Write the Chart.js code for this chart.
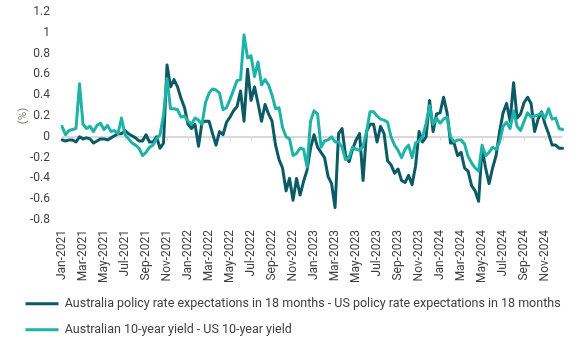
<!DOCTYPE html>
<html lang="en">
<head>
    <meta charset="UTF-8">
    <title>Australia vs US rate differentials</title>
    <script src="https://cdn.jsdelivr.net/npm/chart.js@4.4.1/dist/chart.umd.min.js"></script>
    <style>
        html, body { margin: 0; padding: 0; background: #fff; overflow: hidden; }
        #wrap { width: 579px; height: 350px; }
    </style>
</head>
<body>
    <div id="wrap"><canvas id="myChart"></canvas></div>
    <script>
        // x axis labels, one every two months
        const tickLabels = ['Jan-2021', 'Mar-2021', 'May-2021', 'Jul-2021', 'Sep-2021', 'Nov-2021',
            'Jan-2022', 'Mar-2022', 'May-2022', 'Jul-2022', 'Sep-2022', 'Nov-2022',
            'Jan-2023', 'Mar-2023', 'May-2023', 'Jul-2023', 'Sep-2023', 'Nov-2023',
            'Jan-2024', 'Mar-2024', 'May-2024', 'Jul-2024', 'Sep-2024', 'Nov-2024'];
        const months = ['Jan', 'Feb', 'Mar', 'Apr', 'May', 'Jun', 'Jul', 'Aug', 'Sep', 'Oct', 'Nov', 'Dec'];
        const years = [2021, 2022, 2023, 2024];
        const parts = ['early', 'mid', 'late'];

        const seriesNames = [
            'Australia policy rate expectations in 18 months - US policy rate expectations in 18 months',
            'Australian 10-year yield - US 10-year yield'
        ];

        // three readings per month, Jan-2021 .. Dec-2024 (%)
        const policyDiff = [
            -0.03, -0.04, -0.03, -0.03, -0.05, 0.00, -0.02, -0.01, -0.02, -0.06, -0.04, -0.02,
            -0.02, -0.03, -0.01, 0.01, 0.03, 0.03, 0.06, 0.03, 0.01, -0.01, -0.04, -0.04,
            0.02, -0.05, -0.05, 0.00, -0.11, -0.06, 0.69, 0.48, 0.55, 0.48, 0.37, 0.28,
            0.12, 0.08, 0.12, -0.09, 0.14, 0.15, 0.15, 0.03, -0.08, 0.05, 0.02, 0.14,
            0.19, 0.25, 0.29, 0.44, 0.15, 0.65, 0.35, 0.48, 0.32, 0.15, 0.31, 0.22,
            0.15, -0.08, -0.22, -0.30, -0.52, -0.40, -0.61, -0.40, -0.56, -0.43, -0.32, -0.11,
            0.02, -0.10, -0.15, -0.20, -0.38, -0.45, -0.68, 0.03, 0.08, -0.18, -0.24, -0.12,
            -0.03, 0.03, -0.42, 0.05, 0.12, 0.12, -0.05, 0.10, 0.03, -0.23, -0.27, -0.35,
            -0.31, -0.42, -0.44, -0.37, -0.46, -0.28, 0.05, -0.05, 0.00, 0.35, 0.05, 0.22,
            0.23, 0.38, 0.23, -0.06, -0.06, -0.18, -0.15, -0.30, -0.33, -0.47, -0.52, -0.62,
            -0.11, -0.30, -0.45, -0.30, -0.18, 0.05, 0.23, 0.32, 0.15, 0.52, 0.18, 0.22,
            0.33, 0.38, 0.32, 0.05, 0.17, 0.24, 0.12, 0.03, -0.08, -0.08, -0.11, -0.11
        ];
        const yieldDiff = [
            0.10, 0.02, 0.06, 0.07, 0.08, 0.51, 0.12, 0.08, 0.10, 0.05, 0.11, 0.13,
            0.07, 0.11, 0.05, 0.06, 0.03, 0.18, 0.02, -0.02, -0.06, -0.08, -0.11, -0.18,
            -0.15, -0.10, -0.08, -0.02, 0.02, 0.21, 0.56, 0.27, 0.27, 0.26, 0.19, 0.20,
            0.15, 0.12, 0.18, 0.16, 0.12, 0.33, 0.42, 0.46, 0.45, 0.42, 0.26, 0.28,
            0.36, 0.45, 0.54, 0.55, 0.98, 0.76, 0.78, 0.58, 0.72, 0.50, 0.55, 0.50,
            0.40, 0.27, 0.28, 0.09, 0.00, -0.02, -0.18, -0.16, -0.11, -0.12, -0.29, 0.15,
            0.25, 0.22, -0.10, -0.04, -0.03, 0.00, -0.05, -0.05, -0.10, -0.22, -0.20, -0.10,
            -0.12, -0.13, -0.09, 0.05, 0.24, 0.24, 0.20, 0.17, 0.16, 0.14, 0.00, -0.08,
            -0.13, -0.20, -0.12, -0.08, -0.20, -0.06, -0.04, 0.00, 0.13, 0.30, 0.12, 0.18,
            0.13, 0.17, 0.19, 0.00, -0.05, -0.03, -0.03, -0.07, -0.19, -0.25, -0.30, -0.33,
            -0.08, -0.18, -0.15, -0.10, -0.12, -0.05, 0.10, 0.14, 0.08, 0.25, 0.10, 0.06,
            0.15, 0.23, 0.19, 0.20, 0.21, 0.23, 0.18, 0.27, 0.17, 0.18, 0.08, 0.07
        ];

        const categories = [];
        years.forEach(function (y) {
            months.forEach(function (m) {
                parts.forEach(function (p) { categories.push(m + '-' + y + ' ' + p); });
            });
        });

        const darkTeal = '#0b5a66';
        const lightTeal = '#1eb3a6';
        const axisGrey = '#d9d9d9';
        const fontFamily = 'Roboto, "Open Sans", sans-serif';

        // little tick marks hanging under the zero line, one per x label
        const zeroTicks = {
            id: 'zeroTicks',
            beforeDatasetsDraw(chart) {
                const xs = chart.scales.x, ys = chart.scales.y;
                const y0 = ys.getPixelForValue(0);
                const ctx = chart.ctx;
                ctx.save();
                ctx.strokeStyle = axisGrey;
                ctx.lineWidth = 1;
                for (let i = 0; i < categories.length; i += 6) {
                    const x = Math.round(xs.getPixelForValue(i)) + 0.5;
                    ctx.beginPath();
                    ctx.moveTo(x, y0);
                    ctx.lineTo(x, y0 + 4);
                    ctx.stroke();
                }
                ctx.restore();
            }
        };

        new Chart(document.getElementById('myChart'), {
            type: 'line',
            data: {
                labels: categories,
                datasets: [
                    {
                        label: seriesNames[0],
                        data: policyDiff,
                        borderColor: darkTeal,
                        backgroundColor: darkTeal,
                        borderWidth: 3,
                        borderJoinStyle: 'round',
                        borderCapStyle: 'round',
                        pointRadius: 0,
                        tension: 0,
                        order: 1
                    },
                    {
                        label: seriesNames[1],
                        data: yieldDiff,
                        borderColor: lightTeal,
                        backgroundColor: lightTeal,
                        borderWidth: 3,
                        borderJoinStyle: 'round',
                        borderCapStyle: 'round',
                        pointRadius: 0,
                        tension: 0,
                        order: 0
                    }
                ]
            },
            plugins: [zeroTicks],
            options: {
                responsive: true,
                maintainAspectRatio: false,
                animation: false,
                layout: { padding: { top: 12, right: 5, left: 12, bottom: 4 } },
                plugins: {
                    tooltip: { enabled: false },
                    legend: {
                        position: 'bottom',
                        align: 'start',
                        labels: {
                            sort: (a, b) => a.datasetIndex - b.datasetIndex,
                            usePointStyle: true,
                            pointStyle: 'line',
                            pointStyleWidth: 33,
                            boxHeight: 12.5,
                            padding: 13.5,
                            color: '#404040',
                            font: { family: fontFamily, size: 12.5 }
                        }
                    }
                },
                scales: {
                    x: {
                        grid: { display: false },
                        border: { display: false },
                        ticks: {
                            autoSkip: false,
                            minRotation: 90,
                            maxRotation: 90,
                            padding: 2,
                            color: '#404040',
                            font: { family: fontFamily, size: 12 },
                            callback: function (value, index) {
                                return index % 6 === 0 ? tickLabels[index / 6] : '';
                            }
                        },
                        afterFit: function (scale) { scale.height = 64; }
                    },
                    y: {
                        min: -0.8,
                        max: 1.2,
                        border: { display: false },
                        grid: {
                            drawTicks: true,
                            tickLength: 12,
                            tickColor: 'rgba(0,0,0,0)',
                            lineWidth: 2,
                            color: (ctx) => ctx.tick && Math.abs(ctx.tick.value) < 1e-9 ? axisGrey : 'rgba(0,0,0,0)'
                        },
                        ticks: {
                            stepSize: 0.2,
                            padding: 0,
                            color: '#404040',
                            font: { family: fontFamily, size: 12 },
                            callback: (v) => String(Math.round(v * 10) / 10)
                        },
                        title: {
                            display: true,
                            text: '(%)',
                            color: '#8a7f78',
                            padding: { top: 4, bottom: 0 },
                            font: { family: fontFamily, size: 11.5 }
                        },
                        afterFit: function (scale) { scale.width = 50; }
                    }
                }
            }
        });
    </script>
</body>
</html>
